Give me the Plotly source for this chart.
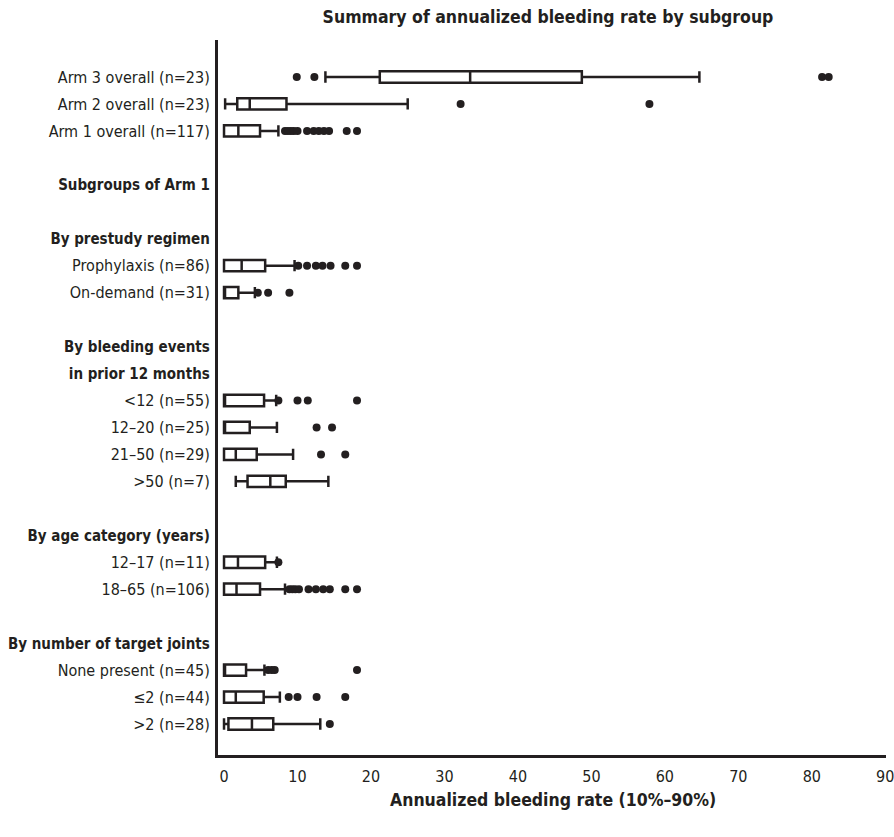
import plotly.graph_objects as go

# ---- data ----
row_labels = [
    "Arm 3 overall (n=23)", "Arm 2 overall (n=23)", "Arm 1 overall (n=117)", " ",
    "Subgroups of Arm 1", "  ",
    "By prestudy regimen", "Prophylaxis (n=86)", "On-demand (n=31)", "   ",
    "By bleeding events", "in prior 12 months",
    "<12 (n=55)", "12–20 (n=25)", "21–50 (n=29)", ">50 (n=7)", "    ",
    "By age category (years)", "12–17 (n=11)", "18–65 (n=106)", "     ",
    "By number of target joints", "None present (n=45)", "≤2 (n=44)", ">2 (n=28)",
]
header_labels = ["Subgroups of Arm 1", "By prestudy regimen", "By bleeding events",
                 "in prior 12 months", "By age category (years)", "By number of target joints"]

box_labels = ["Arm 3 overall (n=23)", "Arm 2 overall (n=23)", "Arm 1 overall (n=117)",
              "Prophylaxis (n=86)", "On-demand (n=31)",
              "<12 (n=55)", "12–20 (n=25)", "21–50 (n=29)", ">50 (n=7)",
              "12–17 (n=11)", "18–65 (n=106)",
              "None present (n=45)", "≤2 (n=44)", ">2 (n=28)"]
lower_whisker = [13.8, 0.15, 0, 0, 0, 0, 0, 0, 1.6, 0, 0, 0, 0, 0]
q1_values     = [21.2, 1.8, 0, 0, 0, 0, 0, 0, 3.2, 0, 0, 0, 0, 0.6]
median_values = [33.5, 3.5, 1.95, 2.4, 0, 0, 0, 1.6, 6.3, 1.9, 1.7, 0, 1.6, 3.8]
q3_values     = [48.7, 8.5, 4.9, 5.6, 1.95, 5.45, 3.5, 4.45, 8.4, 5.6, 4.9, 3.0, 5.4, 6.7]
upper_whisker = [64.7, 25.0, 7.4, 9.6, 4.2, 7.1, 7.2, 9.4, 14.2, 7.2, 8.3, 5.5, 7.6, 13.1]

outliers = {
    "Arm 3 overall (n=23)": [9.9, 12.3, 81.4, 82.3],
    "Arm 2 overall (n=23)": [32.2, 57.9],
    "Arm 1 overall (n=117)": [8.3, 8.7, 9.1, 9.5, 10.0, 11.3, 12.2, 12.9, 13.6, 14.3, 16.7, 18.1],
    "Prophylaxis (n=86)": [10.1, 11.3, 12.5, 13.4, 14.5, 16.5, 18.1],
    "On-demand (n=31)": [4.6, 6.0, 8.9],
    "<12 (n=55)": [7.4, 10.0, 11.4, 18.1],
    "12–20 (n=25)": [12.6, 14.7],
    "21–50 (n=29)": [13.2, 16.5],
    ">50 (n=7)": [],
    "12–17 (n=11)": [7.4],
    "18–65 (n=106)": [8.9, 9.3, 9.7, 10.2, 11.5, 12.5, 13.5, 14.4, 16.5, 18.1],
    "None present (n=45)": [6.0, 6.5, 6.9, 18.1],
    "≤2 (n=44)": [8.8, 10.0, 12.6, 16.5],
    ">2 (n=28)": [14.4],
}
x_ticks = [0, 10, 20, 30, 40, 50, 60, 70, 80, 90]

# ---- figure ----
INK = "#231f20"
FONT = "DejaVu Sans Condensed, Liberation Sans Narrow, sans-serif"

fig = go.Figure()
fig.add_trace(go.Box(
    y=box_labels, q1=q1_values, median=median_values, q3=q3_values,
    lowerfence=lower_whisker, upperfence=upper_whisker,
    orientation="h", width=0.42, whiskerwidth=1,
    fillcolor="white", line=dict(color=INK, width=2.5),
    boxpoints=False, showlegend=False, hoverinfo="skip",
))

ox, oy = [], []
for lab, vals in outliers.items():
    for v in vals:
        ox.append(v)
        oy.append(lab)
fig.add_trace(go.Scatter(
    x=ox, y=oy, mode="markers",
    marker=dict(color=INK, size=8, line=dict(width=0)),
    showlegend=False, hoverinfo="skip",
))

ticktext = [f"<span style='font-size:15px'><b>{l}</b></span>" if l in header_labels else l
            for l in row_labels]

fig.update_layout(
    width=894, height=837,
    margin=dict(l=218, r=8, t=40, b=82, autoexpand=False),
    paper_bgcolor="white", plot_bgcolor="white",
    font=dict(family=FONT, size=16, color=INK),
    hovermode=False,
    title=dict(text="<b>Summary of annualized bleeding rate by subgroup</b>",
               xref="paper", x=0.494, xanchor="center",
               yref="container", y=1 - 17 / 837, yanchor="middle",
               font=dict(size=17.5, family=FONT, color=INK)),
    xaxis=dict(range=[-0.82, 90.1], tickvals=x_ticks, showgrid=False, zeroline=False,
               showline=True, linecolor=INK, linewidth=3, mirror=False,
               ticks="outside", ticklen=5, tickcolor="rgba(0,0,0,0)",
               ticklabeloverflow="allow",
               tickfont=dict(size=16, family=FONT, color=INK), automargin=False),
    yaxis=dict(type="category", categoryorder="array", categoryarray=row_labels,
               tickvals=row_labels, ticktext=ticktext,
               range=[25.15, -1.372], showgrid=False, zeroline=False,
               showline=True, linecolor=INK, linewidth=3,
               ticks="outside", ticklen=2, tickcolor="rgba(0,0,0,0)",
               tickfont=dict(size=16, family=FONT, color=INK), automargin=False),
    annotations=[dict(text="<b>Annualized bleeding rate (10%–90%)</b>",
                      xref="paper", yref="paper", x=0.5015, y=-45 / 715,
                      xanchor="center", yanchor="middle", showarrow=False,
                      font=dict(size=17.5, family=FONT, color=INK))],
)

fig.write_html(
    "out.html",
    config={"displayModeBar": False, "staticPlot": True},
    post_script="document.body.style.margin='0';"
                "document.documentElement.style.overflow='hidden';"
                "document.body.style.overflow='hidden';",
)
